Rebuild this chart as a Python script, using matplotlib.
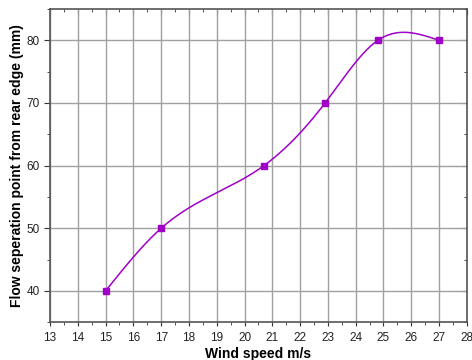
import numpy as np
import matplotlib
matplotlib.use("Agg")
import matplotlib.pyplot as plt
from matplotlib.ticker import MultipleLocator

plt.rcParams["font.family"] = ["Liberation Sans", "DejaVu Sans"]

wind_speed = [15.0, 17.0, 20.7, 22.9, 24.8, 27.0]
separation = [40, 50, 60, 70, 80, 80]


def natural_spline(x, y, n=400):
    # plain natural cubic spline, used only to draw the smooth line
    x = np.asarray(x, float)
    y = np.asarray(y, float)
    k = len(x)
    h = np.diff(x)
    A = np.zeros((k, k))
    r = np.zeros(k)
    A[0, 0] = A[-1, -1] = 1
    for i in range(1, k - 1):
        A[i, i - 1] = h[i - 1]
        A[i, i] = 2 * (h[i - 1] + h[i])
        A[i, i + 1] = h[i]
        r[i] = 6 * ((y[i + 1] - y[i]) / h[i] - (y[i] - y[i - 1]) / h[i - 1])
    m = np.linalg.solve(A, r)
    xs = np.linspace(x[0], x[-1], n)
    idx = np.clip(np.searchsorted(x, xs) - 1, 0, k - 2)
    t0 = x[idx + 1] - xs
    t1 = xs - x[idx]
    hi = h[idx]
    ys = (m[idx] * t0**3 / (6 * hi) + m[idx + 1] * t1**3 / (6 * hi)
          + (y[idx] / hi - m[idx] * hi / 6) * t0
          + (y[idx + 1] / hi - m[idx + 1] * hi / 6) * t1)
    return xs, ys


fig = plt.figure(figsize=(4.72, 3.6), dpi=100)
ax = fig.add_axes([0.106, 0.105, 0.883, 0.87])

color = "#a000c8"
xs, ys = natural_spline(wind_speed, separation)
ax.plot(xs, ys, color=color, lw=1.1, zorder=3)
ax.plot(wind_speed, separation, "s", color=color, ms=5, zorder=4)

ax.set_xlim(13, 28)
ax.set_ylim(35, 85)
ax.xaxis.set_major_locator(MultipleLocator(1))
ax.xaxis.set_minor_locator(MultipleLocator(0.5))
ax.yaxis.set_major_locator(MultipleLocator(10))
ax.yaxis.set_minor_locator(MultipleLocator(5))
ax.grid(True, which="major", color="#a0a0a0", lw=1.0)
ax.set_axisbelow(True)

for s in ax.spines.values():
    s.set_color("#555555")
    s.set_linewidth(1.2)

ax.tick_params(axis="both", which="both", colors="#333333", labelsize=8.5,
               labelcolor="#222222")
ax.tick_params(axis="x", which="major", direction="out", length=3, pad=4)
ax.tick_params(axis="x", which="minor", direction="out", length=2)
ax.tick_params(axis="y", which="major", direction="out", length=4)
ax.tick_params(axis="y", which="minor", direction="out", length=2)

# mirrored ticks pointing inward on top and right
sec_x = ax.secondary_xaxis("top")
sec_x.xaxis.set_major_locator(MultipleLocator(1))
sec_x.xaxis.set_minor_locator(MultipleLocator(0.5))
sec_x.tick_params(which="major", direction="in", length=4, labeltop=False, colors="#333333")
sec_x.tick_params(which="minor", direction="in", length=2, colors="#333333")
sec_x.spines["top"].set_visible(False)
sec_y = ax.secondary_yaxis("right")
sec_y.yaxis.set_major_locator(MultipleLocator(10))
sec_y.yaxis.set_minor_locator(MultipleLocator(5))
sec_y.tick_params(which="major", direction="in", length=4, labelright=False, colors="#333333")
sec_y.tick_params(which="minor", direction="in", length=2, colors="#333333")
sec_y.spines["right"].set_visible(False)

ax.set_xlabel("Wind speed m/s", fontsize=10, fontweight="bold", labelpad=2.5)
ax.set_ylabel("Flow seperation point from rear edge (mm)", fontsize=10,
              fontweight="bold", labelpad=2)

fig.savefig("out.png", dpi=100)
